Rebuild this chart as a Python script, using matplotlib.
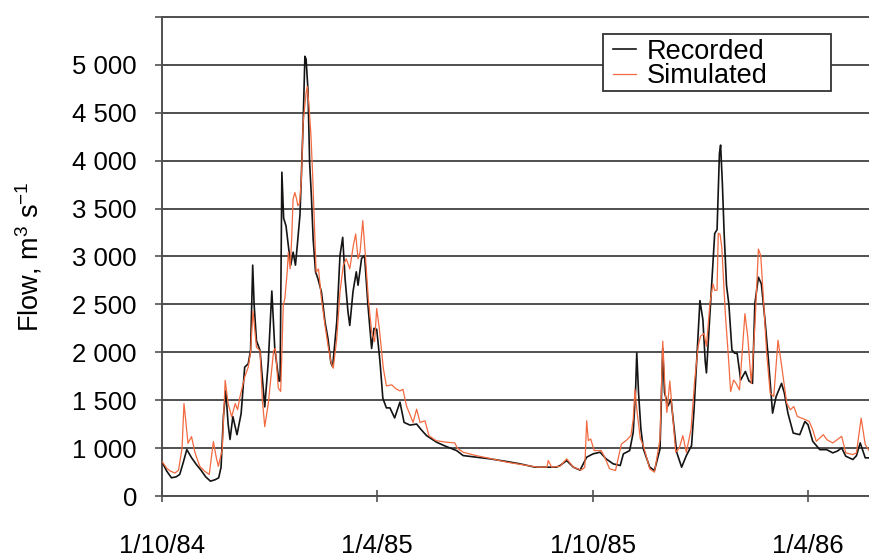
import numpy as np
import matplotlib
matplotlib.use("Agg")
import matplotlib.pyplot as plt
import matplotlib.dates as mdates
from matplotlib.patches import Rectangle
from datetime import datetime

plt.rcParams['font.family'] = ['Liberation Sans', 'DejaVu Sans']
plt.rcParams['mathtext.fontset'] = 'custom'
plt.rcParams['mathtext.rm'] = 'Liberation Sans'
plt.rcParams['mathtext.it'] = 'Liberation Sans'

# days after 1 Oct 1984, flow in m3/s
rec_day = [0, 4, 8, 12, 15, 18, 21, 25, 29, 33, 37, 41, 45, 48, 50, 52, 54, 56, 57.6, 60,
           63.5, 67, 70, 73, 75, 76.8, 78, 80, 83, 87, 90, 93, 95.5, 99, 100, 101.5, 103, 105, 107, 109,
           111, 113, 114.5, 116.8, 118, 119.5, 121, 122, 123.6, 125, 126.5, 128, 130, 132, 135, 138, 140.5, 143, 144.5, 148,
           150.7, 153, 155, 157.5, 159, 161.7, 164.5, 166, 169, 171.5, 174.4, 177.5, 179.5, 181.8, 184.6, 187, 190, 193, 197, 201.5,
           205, 210, 215.6, 219, 224, 232.6, 240, 249.5, 255, 266.5, 277.7, 291.9, 303, 315.8, 328.5, 334, 337, 342.7, 348.3, 354,
           359.6, 365, 371, 376, 382, 388, 390.7, 396, 399, 401, 402, 403.5, 405.5, 407.6, 413, 417, 421.7, 423, 424, 425.5,
           428.5, 431, 435.8, 440, 444, 448.4, 450.5, 452.7, 455.5, 458, 460, 461, 463, 465.4, 468, 470, 472, 473, 474.5, 476,
           478, 480, 482.6, 485, 487, 490, 494, 497, 500, 502, 505, 507.5, 510.6, 513.5, 517, 520, 524.6, 527, 530, 534.5,
           540, 544.4, 547, 551, 557, 562.8, 568, 572, 575.5, 579, 585, 588, 591.2, 595.5, 600]
rec_flow = [855, 760, 690, 700, 725, 850, 985, 900, 830, 770, 700, 655, 670, 690, 800, 1330, 1600, 1250, 1090, 1330,
            1140, 1360, 1845, 1880, 2020, 2910, 2500, 2120, 2020, 1430, 1900, 2640, 2040, 1700, 1700, 3880, 3400, 3320, 3110, 2910,
            3045, 2910, 3110, 3430, 3840, 4390, 5090, 5060, 4740, 3980, 3630, 3180, 2840, 2770, 2630, 2320, 2145, 1890, 1850, 2320,
            3010, 3200, 2770, 2420, 2280, 2630, 2840, 2700, 2980, 3010, 2490, 2040, 2250, 2240, 1900, 1520, 1420, 1420, 1315, 1480,
            1268, 1240, 1251, 1199, 1130, 1061, 1020, 974, 922, 905, 888, 860, 836, 801, 801, 801, 818, 870, 801, 770,
            905, 940, 957, 888, 836, 818, 940, 974, 1164, 1600, 1995, 1580, 1200, 991, 801, 766, 991, 1600, 2040, 1580,
            1441, 1510, 957, 801, 922, 1026, 1400, 1900, 2540, 2340, 1900, 1785, 2200, 2690, 3240, 3280, 4076, 4163, 3760, 3240,
            2700, 2500, 2023, 1990, 1990, 1711, 1800, 1700, 1676, 2507, 2784, 2714, 2334, 1919, 1365, 1538, 1676, 1573, 1365, 1157,
            1140, 1278, 1244, 1071, 984, 984, 950, 970, 1002, 915, 881, 920, 1054, 898, 898]

sim_day = [0, 4, 7, 11, 14, 17, 18.6, 20, 22, 25, 28, 32, 36, 40, 43.5, 46, 47.7, 51, 53.5, 56,
           59, 62, 64, 66, 70, 73, 75, 77, 80, 83, 85, 87, 90, 94.5, 96, 98.5, 100.5, 102.7, 104, 106,
           107, 108.5, 109.8, 111, 112.5, 114, 115, 116.5, 118, 119.5, 122, 123, 124.5, 126, 127.5, 129, 130.5, 132.5, 135, 138,
           140.5, 143, 145, 148, 150.7, 153.5, 156, 159, 162, 164, 166, 167.7, 170, 172, 174.7, 177.5, 180, 181.8, 184, 187.4,
           190, 194.5, 198, 201.5, 204, 207, 212.6, 215.6, 218.5, 222.7, 226, 232, 241, 248, 250, 255, 266, 277, 292, 306,
           318, 326, 327, 330, 337, 342.7, 348.3, 355, 358, 359.6, 361, 363, 366, 372, 375, 379, 384, 389, 393, 397,
           399, 400.5, 402, 405, 407.6, 413, 417, 421.7, 424, 426, 427.5, 430, 432, 435, 438, 441, 444, 448, 451, 454,
           456, 459, 461, 464, 466.5, 468, 470, 471, 472.5, 474, 477, 479.6, 481.5, 484, 486, 489, 493.6, 496, 499, 502,
           505, 507, 509, 512, 515, 518, 521.6, 524, 529, 532, 535, 538, 545, 548, 551, 554, 560, 563, 568, 575.5,
           579, 585, 588, 592, 595.5, 600]
sim_flow = [860, 790, 760, 740, 770, 1000, 1465, 1300, 1050, 1120, 950, 810, 760, 724, 1069, 900, 810, 983, 1707, 1465,
            1327, 1465, 1400, 1534, 1741, 1845, 2000, 2431, 2052, 2017, 1500, 1224, 1465, 2017, 2040, 1626, 1592, 2491, 2560, 2837,
            3045, 2872, 3184, 3599, 3668, 3599, 3530, 3560, 3806, 4394, 4706, 4775, 4567, 4290, 3875, 3356, 2837, 2870, 2560, 2284,
            2076, 1903, 1834, 2145, 2630, 2907, 2976, 2872, 3114, 3235, 2976, 3045, 3374, 3045, 2560, 2215, 2111, 2457, 2249, 1834,
            1649, 1661, 1620, 1597, 1614, 1441, 1268, 1407, 1268, 1285, 1130, 1078, 1061, 1054, 1000, 957, 922, 894, 853, 825,
            801, 801, 870, 801, 810, 888, 801, 770, 800, 1285, 1078, 1095, 974, 974, 900, 784, 766, 1043, 1078, 1130,
            1300, 1614, 1407, 1100, 1026, 784, 749, 1095, 2116, 1600, 1372, 1700, 1407, 957, 1000, 1130, 957, 1199, 1700, 2064,
            2168, 2196, 2064, 2514, 2714, 2645, 2650, 3243, 3234, 3095, 2403, 1953, 1590, 1711, 1676, 1607, 2403, 2161, 1676, 2265,
            3078, 3009, 2611, 1988, 1573, 1538, 2126, 1919, 1469, 1400, 1434, 1330, 1296, 1278, 1192, 1071, 1140, 1088, 1054, 1123,
            950, 933, 950, 1313, 1036, 950]

x_tick_dates = [datetime(1984, 10, 1), datetime(1985, 4, 1), datetime(1985, 10, 1), datetime(1986, 4, 1)]
y_ticks = [500, 1000, 1500, 2000, 2500, 3000, 3500, 4000, 4500, 5000, 5500]
y_tick_labels = ['0', '1 000', '1 500', '2 000', '2 500', '3 000', '3 500', '4 000', '4 500', '5 000', '']

t0 = mdates.date2num(datetime(1984, 10, 1))
rec_x = t0 + np.array(rec_day)
sim_x = t0 + np.array(sim_day)

fig = plt.figure(figsize=(8.7, 5.59), dpi=100)
ax = fig.add_axes([162/870, 1 - 496/559, 708/870, 479/559])

grid_c = '#505050'
ax.plot(rec_x, rec_flow, color='#141414', lw=1.2, label='Recorded', zorder=3)
ax.plot(sim_x, sim_flow, color='#f26a40', lw=0.9, label='Simulated', zorder=4)

ax.set_xlim(t0, t0 + 599.5)
ax.set_ylim(500, 5500)
ax.set_yticks(y_ticks)
ax.set_yticklabels(y_tick_labels)
ax.set_xticks([mdates.date2num(d) for d in x_tick_dates])
ax.set_xticklabels([f"{d.day}/{d.month}/{d.strftime('%y')}" for d in x_tick_dates])

ax.yaxis.grid(True, color=grid_c, lw=1.4)
ax.set_axisbelow(True)
ax.spines['right'].set_visible(False)
for s in ['left', 'bottom', 'top']:
    ax.spines[s].set_color(grid_c)
    ax.spines[s].set_linewidth(1.4)

ax.tick_params(axis='y', direction='inout', length=10, width=1.2, color=grid_c, labelsize=18.5, pad=13)
ax.tick_params(axis='x', direction='inout', length=9, width=1.2, color=grid_c, labelsize=18.5, pad=23)

ax.set_ylabel('Flow, m$^{3}$ s$^{-1}$', fontsize=19.5, labelpad=20)

# legend frame drawn separately (the box is wider than its content)
ax.add_patch(Rectangle((0.623, 0.8455), 0.322, 0.119, transform=ax.transAxes,
                       facecolor='white', edgecolor='#333333', lw=1.3, zorder=5))
leg = ax.legend(loc='upper left', bbox_to_anchor=(0.637, 0.955), borderaxespad=0, frameon=False,
                fontsize=19.5, handlelength=0.85, handletextpad=0.38, labelspacing=-0.04, borderpad=0)
leg.set_zorder(6)

fig.savefig('out.png', dpi=100)
